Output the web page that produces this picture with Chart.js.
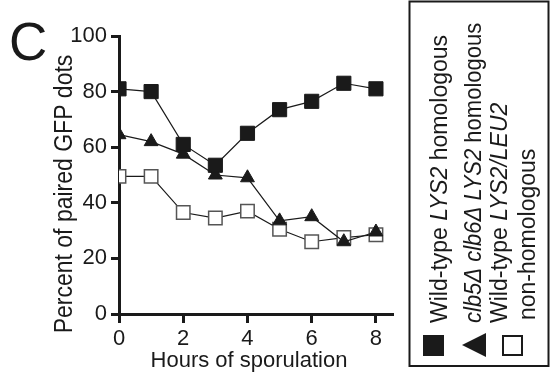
<!DOCTYPE html>
<html>
<head>
<meta charset="utf-8">
<script src="https://cdn.jsdelivr.net/npm/chart.js@4"></script>
<style>
  html, body { margin: 0; padding: 0; background: #fff; }
  #wrap { width: 551px; height: 375px; }
</style>
</head>
<body>
<div id="wrap"><canvas id="chart" width="551" height="375"></canvas></div>
<script>
// hours of sporulation
var hours = [0, 1, 2, 3, 4, 5, 6, 7, 8];
var xTicks = [0, 2, 4, 6, 8];
var yTicks = [0, 20, 40, 60, 80, 100];

// percent of paired GFP dots
var wtHomologous = [81, 80, 61, 53.5, 65, 73.5, 76.5, 83, 81];
var clbHomologous = [64.5, 62, 57.5, 50, 49, 33.5, 35, 26, 29.5];
var wtNonHomologous = [49.5, 49.5, 36.5, 34.5, 37, 30.5, 26, 27.5, 28.5];

var ink = '#1a1a1a';
var fontFam = 'Liberation Sans, Arial, Helvetica, sans-serif';

function pts(vals) {
  return vals.map(function (v, i) { return { x: hours[i], y: v }; });
}

// text rotated to read bottom-to-top, segs = [[text, italic], ...]
// stretch widens the glyphs across the line (the scan is a bit stretched)
function upText(ctx, segs, x, y, size, align, stretch) {
  ctx.save();
  ctx.translate(x, y);
  ctx.rotate(-Math.PI / 2);
  ctx.scale(1, stretch || 1);
  ctx.textBaseline = 'alphabetic';
  ctx.textAlign = 'left';
  var total = 0;
  segs.forEach(function (s) {
    ctx.font = (s[1] ? 'italic ' : '') + size + 'px ' + fontFam;
    total += ctx.measureText(s[0]).width;
  });
  var pos = align === 'center' ? -total / 2 : 0;
  segs.forEach(function (s) {
    ctx.font = (s[1] ? 'italic ' : '') + size + 'px ' + fontFam;
    ctx.fillText(s[0], pos, 0);
    pos += ctx.measureText(s[0]).width;
  });
  ctx.restore();
}

var decor = {
  id: 'decor',
  afterDraw: function (chart) {
    var ctx = chart.ctx;
    ctx.save();
    ctx.fillStyle = ink;
    ctx.strokeStyle = ink;

    // panel letter
    ctx.font = '53px ' + fontFam;
    ctx.textAlign = 'left';
    ctx.textBaseline = 'alphabetic';
    ctx.fillText('C', 9, 60);

    // axis titles
    upText(ctx, [['Percent of paired GFP dots', false]], 72, 194, 23, 'center', 1.12);
    ctx.font = '22px ' + fontFam;
    ctx.textAlign = 'center';
    ctx.fillText('Hours of sporulation', 249, 367);

    // legend box
    ctx.lineWidth = 2;
    ctx.strokeRect(409.5, 1.5, 139, 364.5);

    upText(ctx, [['Wild-type ', false], ['LYS2', true], [' homologous', false]], 447, 323, 23, 'left', 1.05);
    upText(ctx, [['clb5\u0394 clb6\u0394 LYS2', true], [' homologous', false]], 481, 323, 22, 'left', 1.08);
    upText(ctx, [['Wild-type ', false], ['LYS2/LEU2', true]], 507, 323, 23, 'left', 1.05);
    upText(ctx, [['non-homologous', false]], 535, 320, 23, 'left', 1.05);

    // legend markers
    ctx.fillRect(423, 335, 21, 21);
    ctx.beginPath();
    ctx.moveTo(462, 345);
    ctx.lineTo(486, 333);
    ctx.lineTo(486, 357);
    ctx.closePath();
    ctx.fill();
    ctx.lineWidth = 2;
    ctx.fillStyle = '#fff';
    ctx.fillRect(503, 336, 19, 19);
    ctx.strokeRect(503, 336, 19, 19);
    ctx.restore();
  }
};

new Chart(document.getElementById('chart'), {
  type: 'line',
  data: {
    datasets: [{
      label: 'Wild-type LYS2 homologous',
      data: pts(wtHomologous),
      borderColor: ink,
      borderWidth: 1.2,
      pointStyle: 'rect',
      pointRadius: 10,
      pointBackgroundColor: ink,
      pointBorderColor: ink,
      pointBorderWidth: 1
    }, {
      label: 'clb5\u0394 clb6\u0394 LYS2 homologous',
      data: pts(clbHomologous),
      borderColor: ink,
      borderWidth: 1.2,
      pointStyle: 'triangle',
      pointRadius: 8,
      pointBackgroundColor: ink,
      pointBorderColor: ink,
      pointBorderWidth: 1
    }, {
      label: 'Wild-type LYS2/LEU2 non-homologous',
      data: pts(wtNonHomologous),
      borderColor: ink,
      borderWidth: 1.2,
      pointStyle: 'rect',
      pointRadius: 9.5,
      pointBackgroundColor: '#fff',
      pointBorderColor: '#555',
      pointBorderWidth: 1.5
    }]
  },
  options: {
    responsive: false,
    animation: false,
    layout: { padding: { left: 0, top: 36, right: 159, bottom: 0 } },
    plugins: { legend: { display: false }, tooltip: { enabled: false } },
    scales: {
      x: {
        type: 'linear',
        min: 0,
        max: 8.5,
        afterBuildTicks: function (scale) {
          scale.ticks = xTicks.map(function (v) { return { value: v }; });
        },
        afterFit: function (scale) { scale.height = 61; },
        grid: { drawOnChartArea: false, color: ink, lineWidth: 3, tickLength: 9 },
        border: { color: ink, width: 3 },
        ticks: { color: ink, font: { family: fontFam, size: 22 }, padding: 3, maxRotation: 0 }
      },
      y: {
        min: 0,
        max: 100,
        afterBuildTicks: function (scale) {
          scale.ticks = yTicks.map(function (v) { return { value: v }; });
        },
        afterFit: function (scale) { scale.width = 119; },
        grid: { drawOnChartArea: false, color: ink, lineWidth: 3, tickLength: 8 },
        border: { color: ink, width: 3 },
        ticks: { color: ink, font: { family: fontFam, size: 22 }, padding: 4 }
      }
    }
  },
  plugins: [decor]
});
</script>
</body>
</html>
